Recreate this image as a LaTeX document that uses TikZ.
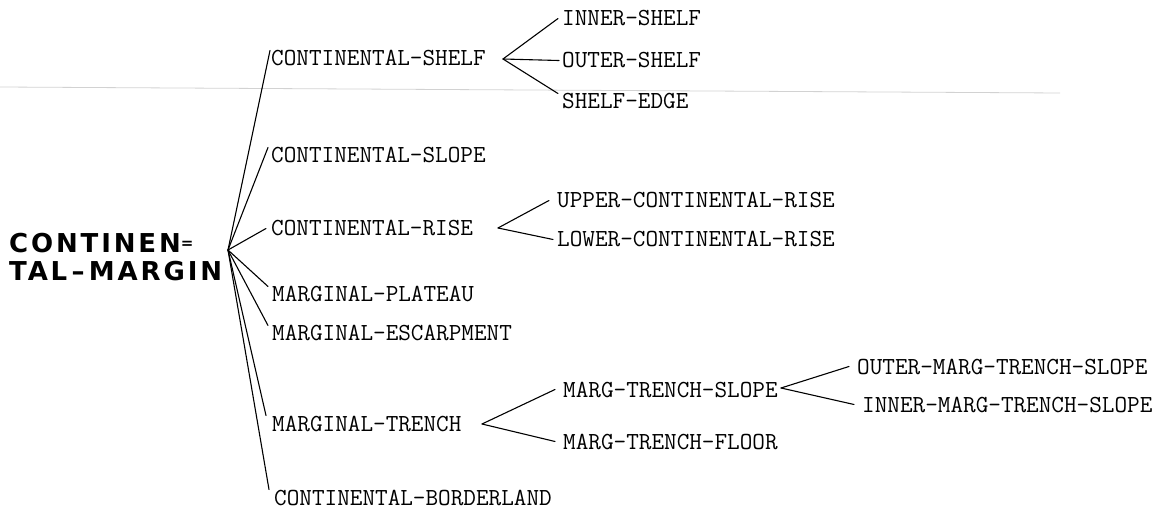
\documentclass[tikz,border=0pt]{standalone}
\usepackage{fontspec}
\newfontfamily\rootfont[LetterSpace=11]{DejaVu Sans}
\newcommand\tw{\ttfamily\fontsize{24.5}{28}\selectfont}
\newcommand\smalleq{\raisebox{4pt}{\fontsize{15}{15}\selectfont =}}
\begin{document}
\begin{tikzpicture}[x=1pt,y=-1pt,
  lab/.style={anchor=base west, inner sep=0pt, font=\tw},
  edge/.style={draw, line width=1.1pt, line cap=round}]
\useasboundingbox (0,0) rectangle (1167,510);
% faint scan mark
\draw[gray!35, line width=0.8pt] (0,87) -- (1060,93);
% root
\node[anchor=north west, inner sep=0pt, align=left,
      font=\rootfont\bfseries\fontsize{26}{28}\selectfont] (root) at (9,233)
      {CONTINEN\smalleq\\TAL\,–\,MARGIN};
\coordinate (r) at (228,250);
% level 1
\node[lab] (cshelf) at (271,66) {CONTINENTAL-SHELF};
\node[lab] (cslope) at (271,163) {CONTINENTAL-SLOPE};
\node[lab] (crise) at (271,236) {CONTINENTAL-RISE};
\node[lab] (mplat) at (272,302) {MARGINAL-PLATEAU};
\node[lab] (mesc) at (272,341) {MARGINAL-ESCARPMENT};
\node[lab] (mtr) at (272,431) {MARGINAL-TRENCH};
\node[lab] (cbl) at (274,505) {CONTINENTAL-BORDERLAND};
% level 2
\coordinate (a1) at (503,59);
\node[lab] (inner) at (562,26) {INNER-SHELF};
\node[lab] (outer) at (562,68) {OUTER-SHELF};
\node[lab] (sedge) at (562,109) {SHELF-EDGE};
\coordinate (a2) at (498,228);
\node[lab] (ucr) at (557,208) {UPPER-CONTINENTAL-RISE};
\node[lab] (lcr) at (557,247) {LOWER-CONTINENTAL-RISE};
\coordinate (a3) at (482,424);
\node[lab] (mts) at (563,397) {MARG-TRENCH-SLOPE};
\node[lab] (mtf) at (563,449) {MARG-TRENCH-FLOOR};
% level 3
\coordinate (a4) at (781,388);
\node[lab] (omts) at (857,374) {OUTER-MARG-TRENCH-SLOPE};
\node[lab] (imts) at (862,412) {INNER-MARG-TRENCH-SLOPE};
% connectors
\draw[edge] (r) -- ([xshift=-1pt]cshelf.north west);
\draw[edge] (r) -- ([xshift=-3pt]cslope.north west);
\draw[edge] (r) -- ([xshift=-5pt]crise.west);
\draw[edge] (r) -- ([xshift=-4pt]mplat.north west);
\draw[edge] (r) -- ([xshift=-4pt]mesc.north west);
\draw[edge] (r) -- ([xshift=-6pt]mtr.north west);
\draw[edge] (r) -- ([xshift=-5pt]cbl.north west);
\draw[edge] (a1) -- ([xshift=-4pt]inner.west);
\draw[edge] (a1) -- ([xshift=-3pt]outer.west);
\draw[edge] (a1) -- ([xshift=-4pt]sedge.north west);
\draw[edge] (a2) -- ([xshift=-8pt]ucr.west);
\draw[edge] (a2) -- ([xshift=-4pt]lcr.west);
\draw[edge] (a3) -- ([xshift=-8pt]mts.west);
\draw[edge] (a3) -- ([xshift=-8pt]mtf.west);
\draw[edge] (a4) -- ([xshift=-8pt]omts.west);
\draw[edge] (a4) -- ([xshift=-8pt]imts.west);
\end{tikzpicture}
\end{document}
